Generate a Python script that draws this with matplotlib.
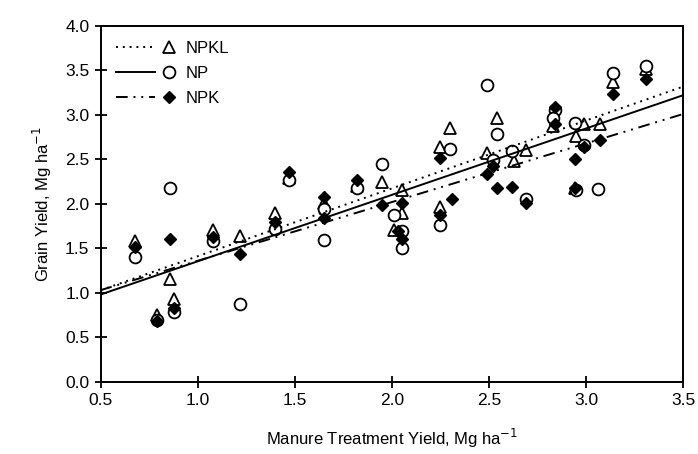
import numpy as np
import matplotlib.pyplot as plt
from matplotlib.legend_handler import HandlerLine2D
from matplotlib.lines import Line2D

plt.rcParams['font.family'] = ['Liberation Sans', 'DejaVu Sans']

# NPKL (open triangles)
npkl_x = [0.68, 0.79, 0.86, 0.88, 1.08, 1.22, 1.40, 1.47, 1.65, 1.82, 1.95, 2.05, 2.05, 2.01,
          2.25, 2.25, 2.30, 2.49, 2.54, 2.63, 2.69, 2.83, 2.95, 2.99, 3.07, 2.94, 3.14, 3.31]
npkl_y = [1.58, 0.75, 1.15, 0.93, 1.71, 1.64, 1.90, 2.29, 2.01, 2.20, 2.25, 2.16, 1.90, 1.71,
          2.64, 1.97, 2.85, 2.57, 2.97, 2.48, 2.60, 2.87, 2.76, 2.90, 2.90, 2.18, 3.37, 3.52]

# NP (open circles)
np_x = [0.68, 0.79, 0.86, 0.88, 1.08, 1.22, 1.40, 1.47, 1.65, 1.65, 1.82, 1.95, 2.01, 2.05, 2.05,
        2.25, 2.30, 2.49, 2.54, 2.52, 2.62, 2.69, 2.84, 2.83, 2.94, 2.95, 2.99, 3.06, 3.14, 3.31]
np_y = [1.40, 0.69, 2.18, 0.78, 1.58, 0.88, 1.72, 2.27, 1.94, 1.59, 2.18, 2.45, 1.88, 1.69, 1.50,
        1.76, 2.62, 3.33, 2.79, 2.49, 2.59, 2.06, 3.06, 2.96, 2.91, 2.15, 2.66, 2.17, 3.47, 3.55]

# NPK (filled diamonds)
npk_x = [0.68, 0.79, 0.86, 0.88, 1.08, 1.22, 1.40, 1.47, 1.65, 1.65, 1.82, 1.95, 2.05, 2.03, 2.05,
         2.25, 2.25, 2.31, 2.49, 2.52, 2.54, 2.62, 2.69, 2.84, 2.84, 2.94, 2.94, 2.99, 3.07, 3.14, 3.31]
npk_y = [1.52, 0.68, 1.61, 0.83, 1.63, 1.44, 1.80, 2.36, 2.08, 1.84, 2.27, 1.99, 2.01, 1.70, 1.60,
         2.51, 1.88, 2.05, 2.33, 2.42, 2.18, 2.19, 2.01, 3.09, 2.90, 2.50, 2.18, 2.64, 2.72, 3.23, 3.40]

# regression lines: intercept, slope
labels = ['NPKL', 'NP', 'NPK']
intercepts = [0.648, 0.607, 0.70]
slopes = [0.763, 0.747, 0.66]


class RightMarker(HandlerLine2D):
    # line on the left, marker at the right end of the handle
    def create_artists(self, legend, orig_handle, xdescent, ydescent, width, height, fontsize, trans):
        y = (height - ydescent) / 2
        line = Line2D([-xdescent, -xdescent + width * 0.74], [y, y])
        self.update_prop(line, orig_handle, legend)
        line.set_marker('None')
        mk = Line2D([-xdescent + width], [y])
        self.update_prop(mk, orig_handle, legend)
        mk.set_linestyle('None')
        line.set_transform(trans)
        mk.set_transform(trans)
        return [line, mk]


fig = plt.figure(figsize=(6.98, 4.54), dpi=100)
ax = fig.add_axes([0.144, 0.159, 0.835, 0.784])

ax.plot(npkl_x, npkl_y, '^', ms=8, mfc='white', mec='black', mew=1.3, ls='none')
ax.plot(np_x, np_y, 'o', ms=8.5, mfc='white', mec='black', mew=1.3, ls='none')
ax.plot(npk_x, npk_y, 'D', ms=5.8, mfc='black', mec='black', ls='none')

xl = np.array([0.5, 3.5])
styles = [(0, (1, 2.5)), '-', (0, (6, 3, 1, 3, 1, 3))]
for b0, b1, st in zip(intercepts, slopes, styles):
    ax.plot(xl, b0 + b1 * xl, color='black', lw=1.4, ls=st)

handles = [
    Line2D([], [], color='black', lw=1.4, ls=styles[0], marker='^', ms=8, mfc='white', mec='black', mew=1.3),
    Line2D([], [], color='black', lw=1.4, ls=styles[1], marker='o', ms=8.5, mfc='white', mec='black', mew=1.3),
    Line2D([], [], color='black', lw=1.4, ls=styles[2], marker='D', ms=5.8, mfc='black', mec='black'),
]
ax.legend(handles, labels, loc='upper left', frameon=False, fontsize=12, numpoints=1,
          handlelength=3.2, handletextpad=1.0, labelspacing=0.6,
          bbox_to_anchor=(0.0, 1.0), handler_map={h: RightMarker() for h in handles})

ax.set_xlim(0.5, 3.5)
ax.set_ylim(0.0, 4.0)
ax.set_xticks(np.arange(0.5, 3.51, 0.5))
ax.set_yticks(np.arange(0.0, 4.01, 0.5))
ax.xaxis.set_major_formatter(plt.FormatStrFormatter('%.1f'))
ax.yaxis.set_major_formatter(plt.FormatStrFormatter('%.1f'))
ax.tick_params(direction='inout', length=8, width=1.3, labelsize=12.5, pad=4)
for s in ax.spines.values():
    s.set_linewidth(1.4)

ax.set_xlabel('Manure Treatment Yield, Mg ha$^{-1}$', fontsize=12, labelpad=14)
ax.set_ylabel('Grain Yield, Mg ha$^{-1}$', fontsize=12, labelpad=8)

fig.savefig('out.png', dpi=100)
